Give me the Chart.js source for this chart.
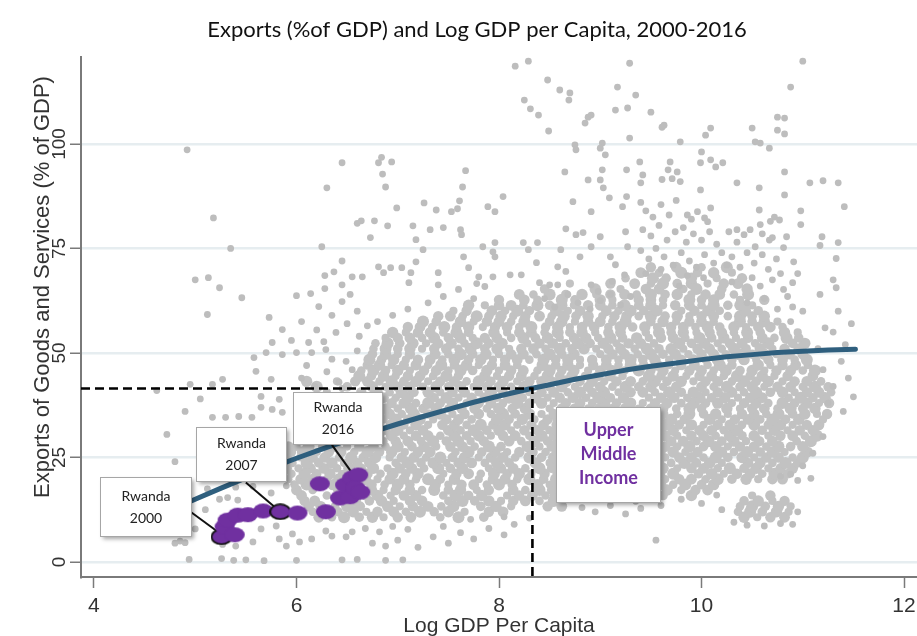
<!DOCTYPE html>
<html>
<head>
<meta charset="utf-8">
<title>Exports (%of GDP) and Log GDP per Capita, 2000-2016</title>
<script src="https://cdn.jsdelivr.net/npm/chart.js@4.4.1/dist/chart.umd.min.js"></script>
<style>
  html, body { margin: 0; padding: 0; background: #ffffff; overflow: hidden; }
  #wrap { width: 917px; height: 636px; }
  canvas { display: block; }
</style>
</head>
<body>
<div id="wrap"><canvas id="chart" width="917" height="636"></canvas></div>
<script>
// ---- axis ticks ----
const xTicks = [4, 6, 8, 10, 12];
const yTicks = [0, 25, 50, 75, 100];

// ---- fitted curve of exports on log GDP per capita ----
const fitX = [4.8, 5.0, 5.25, 5.5, 5.75, 6.0, 6.25, 6.5, 6.75, 7.0, 7.25, 7.5, 7.75, 8.0, 8.33, 8.5, 8.75, 9.0, 9.25, 9.5, 9.75, 10.0, 10.25, 10.5, 10.75, 11.0, 11.25, 11.52];
const fitY = [12.9, 15.0, 17.6, 20.1, 22.5, 24.8, 27.0, 29.1, 31.1, 33.0, 34.8, 36.5, 38.2, 39.7, 41.55, 42.4, 43.7, 44.8, 45.9, 46.8, 47.6, 48.4, 49.1, 49.6, 50.1, 50.4, 50.7, 50.9];

// ---- upper-middle-income threshold ----
const thresholdGdp = 8.33;
const thresholdExports = 41.5;

// ---- Rwanda, 2000-2016 ----
const rwandaX = [5.26, 5.29, 5.32, 5.39, 5.42, 5.52, 5.67, 5.84, 6.01, 6.23, 6.29, 6.43, 6.48, 6.53, 6.55, 6.61, 6.58, 6.63];
const rwandaY = [6.0, 8.4, 10.0, 6.5, 11.2, 11.3, 12.2, 12.0, 11.7, 18.7, 12.0, 15.3, 18.4, 15.6, 20.1, 20.8, 17.7, 16.7];
const rwandaKeyYears = [0, 7]; // indices of the 2000 and 2007 observations

// ---- country-year observations, dense middle of the cloud (rows of equal exports share) ----
const denseRows = [
  [10.7, [6.22,6.35,6.47,6.62,6.75,6.86,7.0,7.13,7.42,7.6,7.85,10.42,10.55,10.68,10.82]],
  [12.0, [6.16,6.29,6.41,6.56,6.69,6.8,6.96,7.08,7.22,7.36,7.5,7.66,7.9,8.04,10.36,10.48,10.6,10.74,10.86]],
  [13.3, [6.12,6.24,6.38,6.5,6.63,6.9,7.02,7.15,7.3,7.43,7.55,7.82,7.97,8.12,8.48,8.62,10.38,10.5,10.63,10.76,10.88]],
  [14.6, [6.08,6.18,6.44,6.58,6.72,6.84,6.96,7.12,7.24,7.5,7.64,7.76,7.9,8.02,8.14,8.26,8.4,8.54,10.42,10.56,10.7,10.82]],
  [15.9, [6.05,6.3,6.55,6.68,6.8,6.93,7.06,7.18,7.45,7.57,7.7,7.83,8.08,8.2,8.33,8.46,8.56,9.62,9.9,10.5,10.68]],
  [17.2, [6.0,6.16,6.42,6.62,6.74,6.86,6.98,7.12,7.24,7.36,7.5,7.62,7.78,7.9,8.14,8.26,8.4,8.52,9.66,9.8,9.94,10.06]],
  [18.5, [5.98,6.1,6.24,6.36,6.5,6.62,6.74,6.87,7.0,7.12,7.37,7.5,7.63,7.75,7.88,8.0,8.13,8.38,8.5,8.58,9.6,9.72,9.84,10.0,10.12]],
  [19.8, [5.92,6.04,6.16,6.3,6.42,6.56,6.68,6.8,6.92,7.06,7.18,7.3,7.42,7.56,7.8,7.94,8.06,8.18,8.3,8.44,8.56,9.64,9.78,9.9,10.04,10.16,10.3,10.44,10.56,10.7,10.8]],
  [21.1, [5.95,6.08,6.2,6.33,6.45,6.58,6.7,6.83,6.95,7.08,7.2,7.45,7.58,7.7,7.82,7.95,8.08,8.2,8.32,8.45,8.58,9.6,9.72,9.97,10.1,10.22,10.35,10.48,10.6,10.72,10.85]],
  [22.4, [5.9,6.02,6.14,6.27,6.4,6.52,6.64,6.76,6.9,7.02,7.14,7.26,7.4,7.52,7.64,7.9,8.02,8.14,8.26,8.4,8.52,9.62,9.76,9.9,10.02,10.16,10.28,10.42,10.54,10.66,10.78,10.9]],
  [23.7, [5.96,6.1,6.22,6.35,6.47,6.6,6.72,6.98,7.1,7.23,7.35,7.48,7.6,7.73,7.86,7.98,8.1,8.36,8.5,8.58,9.58,9.7,9.83,9.95,10.08,10.2,10.46,10.58,10.7,10.83,10.95]],
  [25.0, [5.9,6.04,6.16,6.28,6.42,6.54,6.66,6.78,6.92,7.04,7.16,7.28,7.42,7.54,7.66,7.8,7.92,8.04,8.16,8.3,8.42,8.54,9.64,9.78,9.9,10.02,10.14,10.26,10.4,10.52,10.64,10.76,10.9,11.0]],
  [26.3, [5.95,6.06,6.2,6.32,6.44,6.57,6.7,6.82,6.94,7.07,7.2,7.32,7.57,7.7,7.83,7.96,8.08,8.2,8.33,8.46,8.58,9.6,9.72,9.84,9.96,10.2,10.32,10.45,10.58,10.7,10.82,11.05]],
  [27.6, [5.92,6.0,6.12,6.26,6.38,6.5,6.62,6.76,6.88,7.0,7.14,7.26,7.38,7.52,7.64,7.76,7.9,8.02,8.28,8.4,8.52,9.64,9.76,9.88,10.02,10.14,10.26,10.38,10.52,10.64,10.76,10.88,11.0]],
  [28.9, [6.86,6.98,7.1,7.23,7.35,7.48,7.6,7.72,7.85,8.1,8.22,8.35,8.48,8.58,9.58,9.7,9.82,9.95,10.07,10.2,10.32,10.44,10.57,10.7,10.94,11.08]],
  [30.2, [6.82,6.94,7.06,7.18,7.3,7.42,7.56,7.68,7.8,7.92,8.04,8.16,8.3,8.42,8.54,9.64,9.76,9.9,10.02,10.14,10.28,10.4,10.52,10.66,10.78,10.9,11.02,11.14]],
  [31.5, [6.88,7.0,7.12,7.25,7.5,7.62,7.75,7.88,8.0,8.12,8.25,8.38,8.5,8.58,9.6,9.72,9.85,9.98,10.1,10.22,10.35,10.6,10.72,10.85,10.97,11.1]],
  [32.8, [6.82,6.94,7.06,7.18,7.3,7.44,7.56,7.68,7.82,7.94,8.06,8.18,8.32,8.44,8.56,9.64,9.78,9.9,10.02,10.16,10.28,10.4,10.52,10.66,10.78,10.9,11.04,11.16]],
  [34.1, [6.86,6.98,7.1,7.22,7.35,7.48,7.6,7.73,7.98,8.1,8.23,8.35,8.48,8.58,9.58,9.7,9.83,10.08,10.2,10.33,10.46,10.58,10.7,10.83,10.96,11.2]],
  [35.4, [6.82,6.92,7.04,7.16,7.3,7.42,7.54,7.66,7.8,7.92,8.04,8.16,8.3,8.42,8.54,9.62,9.76,9.88,10.02,10.14,10.26,10.4,10.52,10.64,10.76,10.9,11.02,11.14,11.24]],
  [36.7, [6.88,7.0,7.13,7.25,7.38,7.5,7.63,7.76,7.88,8.0,8.13,8.26,8.5,8.62,8.75,8.88,9.0,9.12,9.25,9.38,9.5,9.62,9.75,9.88,10.0,10.25,10.38,10.5,10.62,10.75,10.88,11.0,11.12]],
  [38.0, [6.82,6.94,7.06,7.18,7.3,7.42,7.54,7.68,7.8,7.92,8.04,8.18,8.3,8.42,8.54,8.66,8.8,8.92,9.04,9.16,9.3,9.42,9.54,9.66,9.8,9.92,10.04,10.16,10.3,10.42,10.54,10.66,10.8,10.92,11.04,11.16,11.26]],
  [39.3, [6.86,6.98,7.1,7.36,7.48,7.6,7.73,7.86,7.98,8.1,8.23,8.36,8.48,8.6,8.73,8.86,8.98,9.1,9.23,9.48,9.6,9.73,9.86,9.98,10.1,10.23,10.36,10.48,10.6,10.86,10.98,11.1,11.22]],
  [40.6, [6.3,6.64,6.8,6.92,7.04,7.16,7.3,7.42,7.54,7.66,7.8,7.92,8.04,8.16,8.3,8.42,8.54,8.68,8.8,8.92,9.04,9.18,9.3,9.42,9.54,9.68,9.8,9.92,10.04,10.16,10.3,10.42,10.54,10.68,10.8,10.92,11.04,11.16,11.28]],
  [41.9, [6.2,6.5,6.75,6.88,7.0,7.12,7.25,7.38,7.5,7.62,7.75,7.88,8.0,8.12,8.25,8.5,8.62,8.75,8.88,9.0,9.12,9.25,9.38,9.5,9.62,9.75,10.0,10.12,10.25,10.38,10.5,10.62,10.75,10.88,11.0,11.12,11.25]],
  [43.2, [6.1,6.4,6.58,6.7,6.82,6.94,7.06,7.18,7.3,7.42,7.56,7.68,7.8,7.92,8.04,8.18,8.3,8.42,8.54,8.66,8.8,8.92,9.04,9.16,9.3,9.42,9.54,9.66,9.8,9.92,10.04,10.16,10.3,10.42,10.54,10.66,10.8,10.92,11.04,11.18]],
  [44.5, [6.62,6.74,6.86,6.98,7.1,7.22,7.35,7.48,7.6,7.86,7.98,8.1,8.22,8.35,8.48,8.6,8.72,8.85,8.98,9.1,9.22,9.48,9.6,9.72,9.85,9.98,10.1,10.22,10.35,10.48,10.6,10.72,10.85,11.1]],
  [45.8, [6.64,6.76,6.88,7.0,7.12,7.26,7.38,7.5,7.62,7.74,7.88,8.0,8.12,8.24,8.38,8.5,8.62,8.74,8.88,9.0,9.12,9.24,9.38,9.5,9.62,9.74,9.88,10.0,10.12,10.24,10.38,10.5,10.62,10.74,10.88,11.0,11.12]],
  [47.1, [6.7,6.82,6.94,7.06,7.18,7.3,7.43,7.56,7.68,7.8,7.93,8.06,8.18,8.43,8.56,8.68,8.8,8.93,9.06,9.18,9.3,9.43,9.56,9.68,9.8,9.93,10.06,10.18,10.3,10.56,10.68,10.8,10.93,11.05]],
  [48.4, [6.72,6.84,6.96,7.08,7.2,7.32,7.44,7.56,7.7,7.82,7.94,8.06,8.18,8.3,8.44,8.56,8.68,8.8,8.92,9.06,9.18,9.3,9.42,9.54,9.68,9.8,9.92,10.04,10.16,10.3,10.42,10.54,10.66,10.8,10.92,11.04]],
  [49.7, [6.75,6.88,7.0,7.12,7.37,7.5,7.62,7.74,7.87,8.0,8.12,8.24,8.37,8.5,8.62,8.74,9.0,9.12,9.24,9.37,9.5,9.62,9.74,9.87,10.0,10.12,10.24,10.37,10.5,10.62,10.74,10.87,11.0]],
  [51.0, [6.76,6.88,7.0,7.12,7.24,7.36,7.48,7.6,7.72,7.86,7.98,8.1,8.22,8.34,8.46,8.6,8.72,8.84,8.96,9.08,9.2,9.34,9.46,9.58,9.7,9.82,9.96,10.08,10.2,10.32,10.44,10.58,10.7,10.82,10.96]],
  [52.3, [6.78,6.9,7.02,7.15,7.28,7.4,7.53,7.66,7.78,7.9,8.03,8.28,8.4,8.53,8.66,8.78,8.9,9.03,9.16,9.28,9.4,9.53,9.78,9.9,10.03,10.16,10.28,10.4,10.53,10.66,10.9,11.02]],
  [53.6, [6.88,7.0,7.12,7.24,7.36,7.5,7.62,7.74,7.86,7.98,8.12,8.24,8.36,8.48,8.6,8.74,8.86,8.98,9.1,9.22,9.36,9.48,9.6,9.72,9.84,9.98,10.1,10.22,10.34,10.46,10.6,10.72,10.84,10.96]],
  [54.9, [6.95,7.08,7.2,7.32,7.45,7.58,7.7,7.95,8.08,8.2,8.32,8.45,8.58,8.7,8.82,8.95,9.08,9.2,9.45,9.58,9.7,9.82,9.95,10.08,10.2,10.32,10.45,10.58,10.82,10.95]],
  [56.2, [7.1,7.22,7.34,7.46,7.58,7.7,7.84,7.96,8.08,8.2,8.32,8.46,8.58,8.7,8.82,8.94,9.08,9.2,9.32,9.44,9.56,9.7,9.82,9.94,10.06,10.18,10.32,10.44,10.56,10.68,10.8]],
  [57.5, [7.25,7.38,7.62,7.75,7.88,8.0,8.12,8.25,8.5,8.62,8.75,8.88,9.0,9.12,9.25,9.5,9.62,9.75,9.88,10.0,10.12,10.38,10.5,10.62,10.75]],
  [58.8, [7.4,7.52,7.64,7.78,7.9,8.02,8.14,8.26,8.4,8.52,8.64,8.76,8.88,9.02,9.14,9.26,9.38,9.5,9.64,9.76,9.88,10.0,10.12,10.26,10.38,10.5,10.62]],
  [60.1, [7.55,7.68,7.93,8.06,8.18,8.3,8.56,8.68,8.8,9.06,9.18,9.3,9.43,9.56,9.8,9.93,10.06,10.18,10.43,10.56]],
  [61.4, [7.7,7.86,8.0,8.12,8.24,8.38,8.5,8.62,8.74,8.88,9.0,9.12,9.24,9.38,9.5,9.62,9.74,9.88,10.0,10.12,10.26,10.38,10.5]],
  [62.7, [8.0,8.25,8.38,8.62,8.75,9.0,9.12,9.38,9.5,9.62,9.88,10.0,10.12,10.38,10.62]],
  [64.0, [8.2,8.34,8.5,8.66,8.82,8.96,9.1,9.24,9.36,9.5,9.64,9.76,9.9,10.04,10.18,10.32,10.46]],
  [65.3, [8.45,8.95,9.2,9.45,9.58,9.82,9.95,10.2,10.45]],
  [66.6, [8.7,9.1,9.34,9.5,9.62,9.76,9.9,10.06,10.22,10.36]],
  [67.9, [9.25,9.52,9.65,9.9,10.15,10.4]],
  [69.2, [9.4,9.58,9.8,9.96,10.12,10.3]],
  [70.5, [9.5,9.75,10.0,10.25]]
];

// ---- country-year observations, outer part of the cloud [log GDP pc, exports %] ----
const outerPoints = [
  [4.92,98.6],[5.18,82.3],[5.35,75.0],[5.0,67.5],[5.13,68.0],[5.24,65.6],[5.46,63.2],[5.12,59.2],
  [6.45,95.5],[6.30,89.5],[6.60,81.0],[6.25,75.4],[6.45,72.0],[6.0,63.7],[6.14,64.2],[6.28,65.4],[6.28,68.5],[6.37,69.4],[6.45,66.3],[6.55,68.2],[6.53,64.0],[6.45,62.3],
  [6.81,95.5],[6.84,96.8],[6.94,95.7],[6.85,92.8],[6.88,89.7],[7.67,93.6],[7.64,89.7],[7.61,86.4],[7.59,84.5],[7.53,83.8],[8.04,87.4],[7.89,85.0],[7.96,83.8],[7.26,85.9],[7.38,84.2],[6.99,84.7],[6.64,81.6],[6.77,81.6],[6.90,80.4],[7.15,80.4],[7.32,79.5],[7.45,80.0],[7.62,79.5],[7.63,78.3],[6.73,77.6],[7.18,77.1],[7.25,74.7],[7.84,75.4],[7.96,76.4],[7.94,74.2],[7.96,73.0],[8.24,76.4],[8.29,74.7],[8.38,76.4],[7.65,73.0],[7.18,71.8],[6.81,70.6],[6.93,70.4],[7.04,70.4],[7.13,69.2],[6.86,69.2],[6.65,68.2],[7.40,69.2],[7.70,70.4],[7.80,68.2],[7.94,68.2],[8.11,68.7],[8.22,68.7],[8.37,71.6],[7.11,66.8],[7.40,66.3],[7.78,66.6],[7.86,65.9],[8.40,66.8],[8.50,66.3],[8.58,66.3],[7.60,65.2],
  [8.16,118.6],[8.29,119.8],[8.48,115.3],[8.60,112.9],[8.70,112.2],[8.69,110.5],[8.25,110.5],[8.31,108.4],[8.39,106.9],[8.49,103.1],[8.88,106.4],[8.91,106.9],[8.85,105.0],[9.29,119.3],[9.17,113.6],[9.15,108.1],[9.27,108.6],[9.29,101.4],[9.35,111.7],[8.75,99.8],[8.76,98.6],[9.02,100.2],[9.00,99.0],[9.05,97.4],[8.65,93.3],[8.88,91.4],[9.02,93.8],[9.00,91.4],[9.03,89.5],[9.09,87.1],[9.26,93.8],[9.26,87.4],[9.22,85.0],[8.73,86.2],[8.91,83.8],[8.66,79.7],[8.76,78.3],[8.83,78.8],[9.00,77.8],[8.91,75.4],[8.80,73.0],[8.61,74.7],[9.25,79.0],[9.27,75.4],[9.10,73.0],[9.15,71.1],[9.24,68.7],[9.12,67.1],[8.66,69.5],[8.58,70.6],[8.91,66.3],[8.98,64.7],
  [11.0,119.8],[10.88,113.6],[9.50,107.6],[9.61,104.0],[9.63,104.5],[9.79,100.5],[10.04,102.1],[10.09,103.8],[10.0,98.1],[10.5,103.8],[10.53,100.5],[10.58,100.2],[10.67,99.0],[10.75,106.4],[10.82,106.2],[10.75,103.3],[10.82,102.4],[9.39,95.7],[9.69,95.7],[9.99,95.5],[10.09,96.2],[10.14,94.5],[10.21,95.5],[9.67,93.8],[9.76,93.3],[9.42,92.6],[9.40,90.7],[9.61,91.5],[9.71,91.7],[9.79,91.0],[9.99,89.0],[10.35,90.7],[10.57,89.5],[10.82,93.3],[11.07,90.7],[11.20,91.2],[11.35,90.7],[10.82,87.8],[11.41,85.0],[10.98,84.0],[10.98,80.7],[11.19,77.8],[11.17,75.7],[11.35,76.4],[11.33,72.6],[11.30,67.5],[11.33,65.6],[11.17,64.0],[10.90,66.8],[10.81,65.2],[10.91,71.8],[10.81,75.2],[10.68,81.5],[10.72,82.5],[10.77,81.8],[10.57,84.2],[10.58,80.7],[10.84,77.8],[10.48,79.5],[10.42,78.3],[10.35,79.5],[10.27,79.0],[10.53,75.4],[10.67,77.0],[10.70,77.6],[10.09,84.7],[10.03,82.3],[10.06,81.4],[9.96,83.8],[9.86,83.0],
  [9.40,86.0],[9.45,84.0],[9.52,82.5],[9.60,85.5],[9.68,83.0],[9.75,86.5],[9.82,80.0],[9.90,82.0],[9.42,79.5],[9.50,78.0],[9.58,80.5],[9.66,77.0],[9.74,79.0],[9.85,76.5],[9.92,78.5],[10.0,77.0],[10.08,79.0],[10.15,76.0],[9.40,74.5],[9.48,72.5],[9.55,75.0],[9.63,73.0],[9.72,71.0],[9.80,74.0],[9.88,72.0],[9.95,70.5],[10.03,73.5],[10.12,71.5],[10.20,74.0],[9.45,69.0],[9.60,70.0],[9.78,66.0],[9.86,68.5],[10.02,68.0],[10.25,71.0],
  [10.30,73.0],[10.38,70.5],[10.45,74.0],[10.52,71.5],[10.60,73.5],[10.66,70.0],[10.74,72.5],[10.30,67.0],[10.50,68.0],[10.58,66.0],[10.70,67.5],[10.78,69.0],[10.85,63.5],[10.62,63.0],[10.45,62.0],[10.95,69.0],[10.35,76.5],[10.60,78.5],[10.90,61.0],[10.75,60.5],[10.88,57.5],[11.0,60.0],
  [8.45,63.0],[8.55,61.0],[8.68,64.0],[8.78,62.0],[8.90,60.5],[9.00,62.5],[9.10,64.0],[9.20,61.5],[9.30,63.5],[7.30,62.0],[7.10,60.5],[7.45,63.5],[7.75,63.0],[6.95,59.0],[6.80,57.5],
  [5.73,58.5],[5.86,55.6],[6.22,61.1],[6.39,54.9],[5.76,52.5],[5.58,48.9],[5.70,50.1],[5.86,49.6],[6.0,50.1],[6.12,52.5],[6.15,50.1],[6.27,52.7],[6.29,50.8],[6.49,48.0],[5.27,43.7],[5.17,42.5],[5.60,45.6],[5.75,43.7],[4.90,36.0],[5.17,34.6],[5.30,34.6],[5.43,34.8],[5.56,34.6],[5.65,37.0],[5.76,36.5],[5.86,35.8],[5.65,39.6],[5.83,38.9],
  [6.05,44.0],[6.18,42.0],[6.30,45.5],[6.42,43.0],[6.55,46.0],[6.10,47.0],[6.35,48.5],[6.60,50.5],[6.20,55.5],[6.50,57.0],[6.35,59.0],[6.60,60.0],[6.05,57.5],[5.95,53.0],[6.45,41.5],[6.62,54.0],[6.70,56.5],
  [4.72,30.5],[4.80,24.0],[4.62,41.0],[4.95,42.5],[5.05,39.0],
  [4.85,5.0],[5.0,7.9],[5.24,15.0],[5.32,15.4],[5.42,14.8],[5.27,4.2],[5.40,3.8],[5.57,4.8],[5.65,7.9],[5.80,8.6],[5.83,5.5],[5.90,3.8],[5.96,6.7],[6.03,4.8],[6.15,5.5],[6.29,7.4],[6.35,6.2],[6.49,6.0],[6.55,7.2],[5.40,17.9],[5.57,18.1],[5.66,21.5],[5.12,17.5],[5.75,16.5],[5.90,18.2],[5.10,12.5],
  [4.94,0.6],[5.26,0.8],[5.38,0.4],[5.50,0.5],[5.68,0.3],[6.0,0.4],[6.45,0.5],[6.60,0.6],[6.88,0.4],[7.05,0.5],[6.88,3.8],[4.80,4.5],[4.90,4.6],[9.55,5.2],
  [6.68,8.0],[6.82,7.2],[6.95,8.5],[7.10,7.8],[7.20,3.5],[7.35,6.0],[7.50,4.5],[7.62,7.0],[7.75,5.5],[7.90,8.0],[8.05,6.5],[8.15,9.0],[7.45,8.5],[6.75,4.5],[7.0,5.2],[8.30,10.5],[8.05,10.8],[7.72,10.2],
  [8.82,13.0],[8.95,12.0],[9.10,13.5],[9.25,11.5],[9.40,12.8],[9.60,13.5],[9.80,15.0],[10.0,14.0],[10.15,16.0],[9.35,14.5],
  [10.32,9.5],[10.95,12.0],[10.90,9.0],[10.45,8.8],[10.62,8.6],[10.78,9.2],[10.20,12.5],
  [11.30,42.0],[11.38,48.0],[11.45,44.0],[11.50,39.5],[11.42,52.0],[11.30,55.0],[11.48,57.0],[11.35,60.0],[11.25,38.0],[11.40,36.0],[11.20,30.0],[11.10,26.0],[11.0,23.0],[11.08,20.0],[10.95,19.5],[10.78,20.5],[10.88,21.0],[11.20,46.0],[11.15,51.0],[11.22,56.0]
];

// ---- text ----
const titleText = 'Exports (%of GDP) and Log GDP per Capita, 2000-2016';
const xTitle = 'Log GDP Per Capita';
const yTitle = 'Exports of Goods and Services (% of GDP)';

// ---- axis extent ----
const xMin = 3.872, xMax = 12.128;
const yMin = -3.6, yMax = 120.8;

// ---- callout boxes, placed in data units ----
const callouts = [
  { lines: ['Rwanda', '2000'], box: [4.06, 4.96, 6.2, 20.3], style: 'year', leader: [[4.96, 11.9], [5.27, 6.4]] },
  { lines: ['Rwanda', '2007'], box: [5.01, 5.90, 19.3, 32.2], style: 'year', leader: [[5.50, 19.0], [5.84, 12.0]] },
  { lines: ['Rwanda', '2016'], box: [5.97, 6.84, 28.2, 40.6], style: 'year', leader: [[6.35, 28.0], [6.57, 20.6]] },
  { lines: ['Upper', 'Middle', 'Income'], box: [8.56, 9.59, 14.3, 37.0], style: 'income' }
];

// ---- build datasets ----
const densePts = [];
denseRows.forEach(([y, xs]) => xs.forEach(x => densePts.push({ x, y })));
const outerPts = outerPoints.map(([x, y]) => ({ x, y }));
const fitPts = fitX.map((x, i) => ({ x, y: fitY[i] }));
const rwandaPts = rwandaX.map((x, i) => ({ x, y: rwandaY[i] }));

function ellipseSprite(fill, stroke) {
  const c = document.createElement('canvas');
  c.width = 22; c.height = 17;
  const g = c.getContext('2d');
  g.beginPath();
  g.ellipse(11, 8.5, 10, 7.4, 0, 0, Math.PI * 2);
  g.fillStyle = fill;
  g.fill();
  if (stroke) { g.lineWidth = 1.8; g.strokeStyle = stroke; g.stroke(); }
  return c;
}
const PURPLE = '#7030a0';
const plainDot = ellipseSprite(PURPLE, null);
const keyDot = ellipseSprite(PURPLE, '#111111');
const rwandaStyles = rwandaPts.map((p, i) => rwandaKeyYears.includes(i) ? keyDot : plainDot);

// marker sizes vary a little so overlapping markers read as a mottled cloud
const denseSizes = [5.4, 4.3, 6.0, 4.8, 5.7, 4.1, 5.2];

const GREY = '#bdbdbd';
const datasets = [
  { label: 'Rwanda', data: rwandaPts, pointStyle: rwandaStyles, pointRadius: 9, order: 0 },
  ...callouts.filter(c => c.leader).map(c => ({
    label: 'leader', data: c.leader.map(([x, y]) => ({ x, y })), showLine: true,
    borderColor: '#111111', borderWidth: 2, pointRadius: 0, order: 1
  })),
  { label: 'threshold',
    data: [{ x: xMin, y: thresholdExports }, { x: thresholdGdp, y: thresholdExports }, { x: thresholdGdp, y: yMin }],
    showLine: true, borderColor: '#000000', borderWidth: 2.6, borderDash: [9, 5], pointRadius: 0, order: 2 },
  { label: 'fit', data: fitPts, showLine: true, borderColor: '#2f5f7e', borderWidth: 5,
    borderCapStyle: 'round', borderJoinStyle: 'round', pointRadius: 0, order: 3 },
  { label: 'outer', data: outerPts, pointRadius: 3.4, backgroundColor: GREY, borderWidth: 0, order: 4 },
  { label: 'dense', data: densePts, pointRadius: c => denseSizes[c.dataIndex % denseSizes.length],
    backgroundColor: '#c2c2c2', borderWidth: 0, order: 5 }
];

// ---- text, callout boxes, rotated y labels ----
const annotations = {
  id: 'annotations',
  afterDatasetsDraw(chart) {
    const { ctx, scales: { x, y } } = chart;
    callouts.forEach(c => {
      const l = Math.round(x.getPixelForValue(c.box[0])) + 0.5;
      const r = Math.round(x.getPixelForValue(c.box[1])) + 0.5;
      const t = Math.round(y.getPixelForValue(c.box[3])) + 0.5;
      const b = Math.round(y.getPixelForValue(c.box[2])) + 0.5;
      ctx.save();
      ctx.shadowColor = 'rgba(0,0,0,0.35)';
      ctx.shadowBlur = 4;
      ctx.shadowOffsetX = 2;
      ctx.shadowOffsetY = 2;
      ctx.fillStyle = '#ffffff';
      ctx.fillRect(l, t, r - l, b - t);
      ctx.restore();
      ctx.save();
      ctx.strokeStyle = '#a6a6a6';
      ctx.lineWidth = 1;
      ctx.strokeRect(l, t, r - l, b - t);
      const cx = (l + r) / 2, cy = (t + b) / 2;
      ctx.textAlign = 'center';
      ctx.textBaseline = 'middle';
      if (c.style === 'income') {
        ctx.font = 'bold 18px Lato';
        ctx.fillStyle = '#7030a0';
        const lh = 24;
        c.lines.forEach((s, i) => ctx.fillText(s, cx, cy + (i - (c.lines.length - 1) / 2) * lh - 1));
      } else {
        ctx.font = '14px Lato';
        ctx.fillStyle = '#222222';
        const lh = 22;
        c.lines.forEach((s, i) => ctx.fillText(s, cx, cy + (i - (c.lines.length - 1) / 2) * lh));
      }
      ctx.restore();
    });
  },
  afterDraw(chart) {
    const { ctx, chartArea, scales: { x, y } } = chart;
    ctx.save();
    // title
    ctx.fillStyle = '#111111';
    ctx.font = '22px Lato';
    ctx.textAlign = 'center';
    ctx.textBaseline = 'alphabetic';
    ctx.fillText(titleText, 477, 37);
    // x tick labels
    ctx.fillStyle = '#333333';
    ctx.font = '21px "Liberation Sans"';
    xTicks.forEach(v => ctx.fillText(String(v), x.getPixelForValue(v), 612));
    // x title
    ctx.font = '21px "Liberation Sans"';
    ctx.fillText(xTitle, (chartArea.left + chartArea.right) / 2, 632);
    // y tick labels, rotated
    ctx.font = '19px "Liberation Sans"';
    yTicks.forEach(v => {
      ctx.save();
      ctx.translate(65, y.getPixelForValue(v));
      ctx.rotate(-Math.PI / 2);
      ctx.fillText(String(v), 0, 0);
      ctx.restore();
    });
    // y title
    ctx.font = '22px "Liberation Sans"';
    ctx.translate(49, 287);
    ctx.rotate(-Math.PI / 2);
    ctx.fillText(yTitle, 0, 0);
    ctx.restore();
  }
};

new Chart(document.getElementById('chart'), {
  type: 'scatter',
  data: { datasets },
  options: {
    responsive: false,
    animation: false,
    events: [],
    layout: { autoPadding: false, padding: { top: 57, left: 0, right: 0, bottom: 0 } },
    plugins: { legend: { display: false }, tooltip: { enabled: false }, title: { display: false } },
    scales: {
      x: {
        type: 'linear', min: xMin, max: xMax,
        afterBuildTicks: s => { s.ticks = xTicks.map(v => ({ value: v })); },
        afterFit: s => { s.height = 59; },
        ticks: { display: false },
        grid: { drawOnChartArea: false, drawTicks: true, tickLength: 11, tickColor: '#7a7a7a', tickWidth: 1.5 },
        border: { display: true, color: '#7a7a7a', width: 2 }
      },
      y: {
        type: 'linear', min: yMin, max: yMax,
        afterBuildTicks: s => { s.ticks = yTicks.map(v => ({ value: v })); },
        afterFit: s => { s.width = 81; },
        ticks: { display: false },
        grid: { color: '#e6edf0', lineWidth: 2.5, drawTicks: true, tickLength: 11, tickColor: '#7a7a7a', tickWidth: 1.5 },
        border: { display: true, color: '#7a7a7a', width: 2 }
      }
    }
  },
  plugins: [annotations]
});
</script>
</body>
</html>
